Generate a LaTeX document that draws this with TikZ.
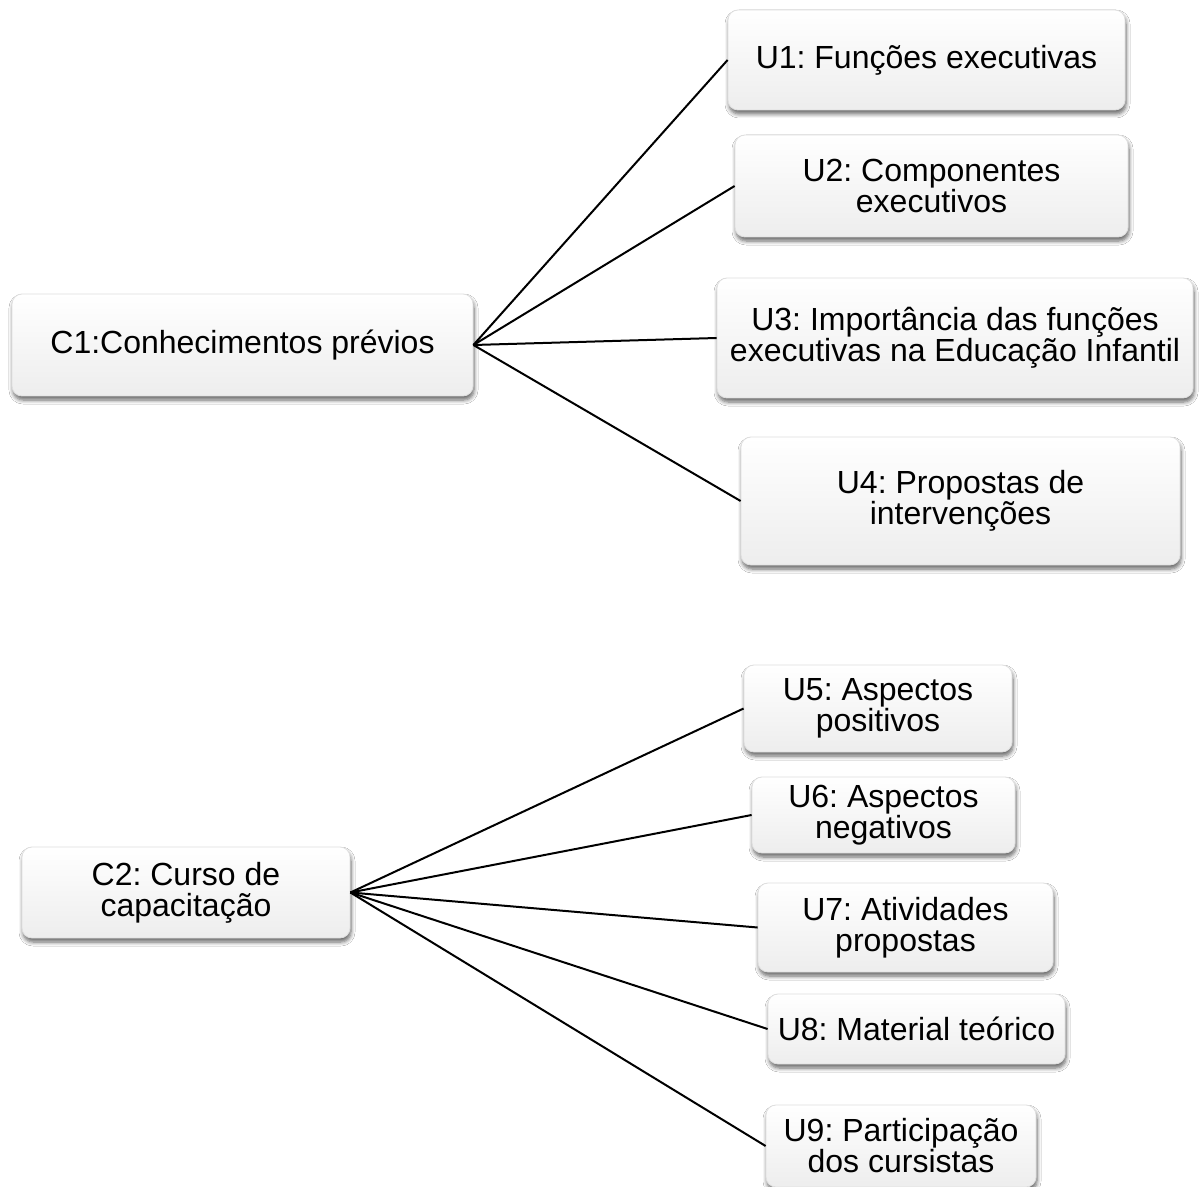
\documentclass[tikz,border=0pt]{standalone}
\usepackage{fontspec}
\setmainfont{Liberation Sans}
\frenchspacing
\usetikzlibrary{shadows.blur}
\begin{document}
\begin{tikzpicture}[x=0.5pt,y=-0.5pt,
  box/.style={rounded corners=5pt, draw=gray!25, line width=0.4pt,
    top color=white, bottom color=gray!14,
    blur shadow={shadow xshift=0.5pt, shadow yshift=-2pt, shadow blur radius=2pt, shadow blur steps=6, shadow opacity=60},
    inner sep=0pt, align=center, font=\fontsize{16pt}{15.5pt}\selectfont},
  link/.style={line width=1pt, black}]
\useasboundingbox (0,0) rectangle (1199,1187);
\fill[white] (0,0) rectangle (1199,1187);

% first category and its units
\node[box, minimum width=230.5pt, minimum height=51pt] (c1) at (242.5,345) {C1:Conhecimentos prévios};
\node[box, minimum width=198.5pt, minimum height=50pt] (u1) at (926.5,60) {U1: Funções executivas};
\node[box, minimum width=196.5pt, minimum height=51pt] (u2) at (931.5,186) {U2: Componentes\\executivos};
\node[box, minimum width=238pt, minimum height=60pt] (u3) at (955,338) {U3: Importância das funções\\executivas na Educação Infantil};
\node[box, minimum width=219.5pt, minimum height=64pt] (u4) at (960.5,501) {U4: Propostas de\\intervenções};

% second category and its units
\node[box, minimum width=164pt, minimum height=45.5pt] (c2) at (186,892.5) {C2: Curso de\\capacitação};
\node[box, minimum width=134pt, minimum height=43.5pt] (u5) at (878,708.5) {U5: Aspectos\\positivos};
\node[box, minimum width=131.5pt, minimum height=38pt] (u6) at (883.5,815) {U6: Aspectos\\negativos};
\node[box, minimum width=147.5pt, minimum height=44.5pt] (u7) at (905.5,927.5) {U7: Atividades\\propostas};
\node[box, minimum width=148.5pt, minimum height=35pt] (u8) at (916.5,1029) {U8: Material teórico};
\node[box, minimum width=135pt, minimum height=41pt] (u9) at (901,1146) {U9: Participação\\dos cursistas};

% connectors
\foreach \u in {u1,u2,u3,u4} \draw[link] (c1.east) -- (\u.west);
\foreach \u in {u5,u6,u7,u8,u9} \draw[link] (c2.east) -- (\u.west);
\end{tikzpicture}
\end{document}
